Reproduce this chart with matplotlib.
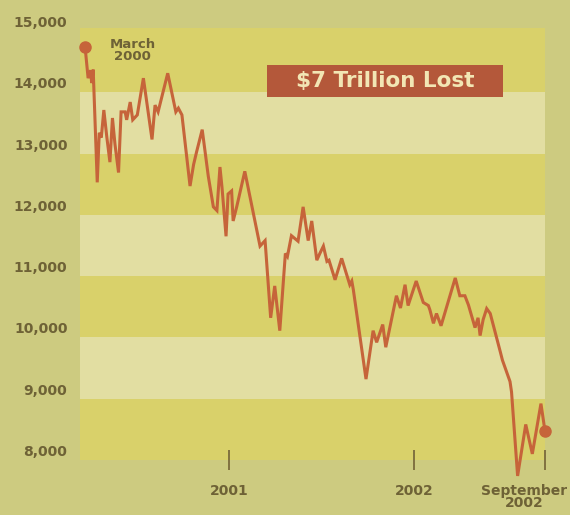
import matplotlib
matplotlib.use("Agg")
import matplotlib.pyplot as plt
import matplotlib.patches as patches
import pandas as pd

# index level, March 2000 - September 2002
dates = [
    "2000-03-23", "2000-03-29", "2000-04-03", "2000-04-05", "2000-04-08",
    "2000-04-16", "2000-04-20", "2000-04-24", "2000-04-29", "2000-05-05",
    "2000-05-11", "2000-05-16", "2000-05-21", "2000-05-28", "2000-06-02",
    "2000-06-10", "2000-06-13", "2000-06-20", "2000-06-25", "2000-07-04",
    "2000-07-16", "2000-08-02", "2000-08-08", "2000-08-14", "2000-09-02",
    "2000-09-18", "2000-09-23", "2000-09-30", "2000-10-16", "2000-10-23",
    "2000-10-29", "2000-11-09", "2000-11-21", "2000-12-01", "2000-12-08",
    "2000-12-14", "2000-12-18", "2000-12-26", "2000-12-30", "2001-01-06",
    "2001-01-09", "2001-01-16", "2001-02-01", "2001-03-03", "2001-03-13",
    "2001-03-24", "2001-04-01", "2001-04-11", "2001-04-22", "2001-04-26",
    "2001-05-04", "2001-05-17", "2001-05-27", "2001-06-06", "2001-06-13",
    "2001-06-23", "2001-06-29", "2001-07-06", "2001-07-13", "2001-07-17",
    "2001-07-29", "2001-08-11", "2001-08-27", "2001-08-31", "2001-09-03",
    "2001-09-28", "2001-10-12", "2001-10-19", "2001-10-31", "2001-11-06",
    "2001-11-27", "2001-12-05", "2001-12-14", "2001-12-20", "2002-01-05",
    "2002-01-19", "2002-01-29", "2002-02-01", "2002-02-08", "2002-02-14",
    "2002-02-23", "2002-03-23", "2002-04-01", "2002-04-11", "2002-04-18",
    "2002-05-01", "2002-05-07", "2002-05-11", "2002-05-17", "2002-05-24",
    "2002-05-31", "2002-06-20", "2002-06-24", "2002-07-09", "2002-07-12",
    "2002-07-24", "2002-08-09", "2002-08-22", "2002-09-08", "2002-09-16",
]
values = [
    14610, 14100, 14230, 14020, 14240, 12400, 13210, 13130, 13580, 13130,
    12730, 13450, 13020, 12560, 13550, 13550, 13420, 13710, 13420, 13500,
    14100, 13100, 13660, 13550, 14180, 13550, 13610, 13500, 12340, 12690,
    12900, 13260, 12500, 12000, 11940, 12650, 12320, 11520, 12210, 12260,
    11770, 12000, 12580, 11360, 11450, 10190, 10710, 9980, 11240, 11190,
    11530, 11440, 12000, 11450, 11770, 11130, 11240, 11360, 11110, 11130,
    10810, 11160, 10730, 10790, 10650, 9190, 9980, 9790, 10080, 9710,
    10550, 10350, 10730, 10390, 10790, 10440, 10390, 10320, 10100, 10260,
    10060, 10840, 10550, 10550, 10400, 10030, 10190, 9900, 10160, 10340,
    10260, 9630, 9500, 9150, 8980, 7610, 8450, 7970, 8790, 8340,
]
y_ticks = [8000, 9000, 10000, 11000, 12000, 13000, 14000, 15000]
x_ticks = ["2001-01-01", "2002-01-01", "2002-09-16"]
x_tick_labels = ["2001", "2002", ""]

olive = "#cdcb80"
dark_band = "#d9d16a"
light_band = "#e2dea2"
line_col = "#c6643a"
text_col = "#6e6236"


def main():
    x = pd.to_datetime(dates)

    fig = plt.figure(figsize=(5.7, 5.15), dpi=100, facecolor=olive)
    # plot area spans pixels 80..545 horizontally and 23..460 vertically
    ax = fig.add_axes([80 / 570, 55 / 515, 465 / 570, 437 / 515])
    ax.set_facecolor(olive)
    ymin, ymax = 7870, 14920

    # alternating horizontal bands, top one runs to the top of the plot
    for i in range(7):
        c = dark_band if i % 2 == 0 else light_band
        top = ymax if i == 6 else ymin + (i + 1) * 1000
        ax.axhspan(ymin + i * 1000, top, color=c, lw=0, zorder=0)

    ax.plot(x, values, color=line_col, lw=2.2, zorder=3, clip_on=False,
            solid_joinstyle="miter")
    ax.plot(x[[0, -1]], [values[0], values[-1]], "o", color=line_col,
            ms=8, zorder=4, clip_on=False)

    ax.set_xlim(pd.Timestamp("2000-03-13"), pd.Timestamp("2002-09-16"))
    ax.set_ylim(ymin, ymax)

    for s in ax.spines.values():
        s.set_visible(False)

    ax.set_yticks(y_ticks)
    ax.set_yticklabels([f"{v:,}" for v in y_ticks])
    ax.tick_params(axis="y", length=0, pad=9, labelsize=10,
                   labelcolor=text_col)
    for t in ax.get_yticklabels():
        t.set_fontweight("bold")
        t.set_va("center")

    ax.set_xticks(pd.to_datetime(x_ticks))
    ax.set_xticklabels(x_tick_labels)
    ax.tick_params(axis="x", direction="inout", length=15, width=1.3,
                   color="#7a6a3c", pad=10, labelsize=10, labelcolor=text_col)
    for t in ax.get_xticklabels():
        t.set_fontweight("bold")

    fig.text(524 / 570, 1 - 497 / 515, "September\n2002",
             ha="center", va="center", fontsize=10, fontweight="bold",
             color=text_col, linespacing=0.9)
    ax.text(pd.Timestamp("2000-06-25"), 14550, "March\n2000",
            ha="center", va="center", fontsize=9.5, fontweight="bold",
            color=text_col, linespacing=0.9)

    # headline box
    fig.patches.append(patches.Rectangle(
        (267 / 570, 1 - 97 / 515), 236 / 570, 32 / 515,
        transform=fig.transFigure, fc="#b4583a", ec="none", zorder=5))
    fig.text(385 / 570, 1 - 81 / 515, "$7 Trillion Lost", ha="center",
             va="center", fontsize=15.5, fontweight="bold", color="#f2e6b4",
             zorder=6)

    fig.savefig("out.png", dpi=100, facecolor=olive)
    plt.close(fig)


if __name__ == "__main__":
    main()
